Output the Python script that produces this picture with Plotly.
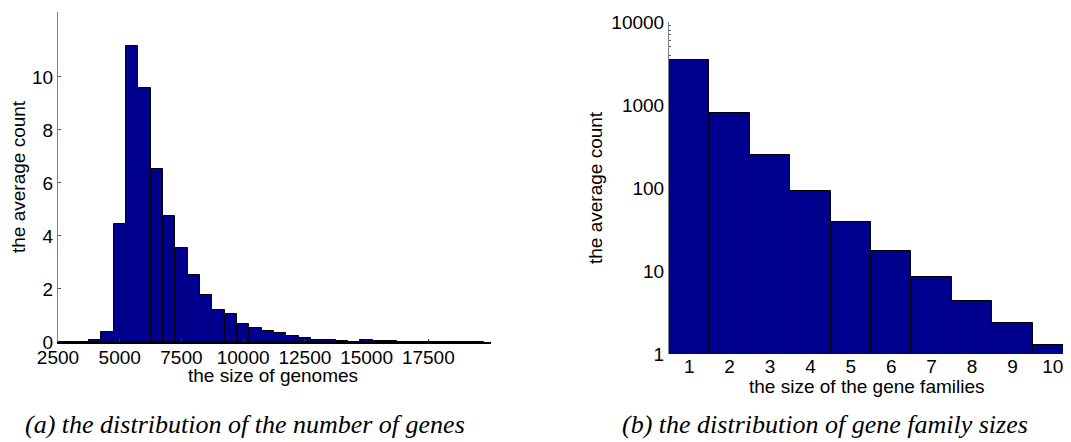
import plotly.graph_objects as go

# The page body has an 8px margin, so the figure is drawn 8px smaller and
# reference pixel positions are shifted by that offset.
OFF = 8
W, H = 1071 - OFF, 442 - OFF

# ---- data: (a) distribution of the number of genes ----
genome_bin_centers = [2500, 3000, 3500, 4000, 4500, 5000, 5500, 6000, 6500, 7000,
                      7500, 8000, 8500, 9000, 9500, 10000, 10500, 11000, 11500, 12000,
                      12500, 13000, 13500, 14000, 14500, 15000, 15500, 16000, 16500, 17000,
                      17500, 18000, 18500, 19000, 19500]
genome_avg_counts = [0, 0, 0, 0.06, 0.38, 4.45, 11.17, 9.57, 6.52, 4.74,
                     3.55, 2.52, 1.79, 1.22, 1.07, 0.67, 0.53, 0.42, 0.34, 0.24,
                     0.14, 0.07, 0.08, 0.04, 0.01, 0.06, 0.05, 0.05, 0.01, 0.01,
                     0.005, 0.005, 0.005, 0.005, 0.005]
genome_xticks = [2500, 5000, 7500, 10000, 12500, 15000, 17500]
genome_xticktext = ["2500", "5000", "7500", "10000", "12500", "15000", "17500"]
genome_yticks = [0, 2, 4, 6, 8, 10]

# ---- data: (b) distribution of gene family sizes ----
family_sizes = [1, 2, 3, 4, 5, 6, 7, 8, 9, 10]
family_avg_counts = [3500, 807, 252, 93, 38.6, 17.6, 8.5, 4.4, 2.34, 1.28]
family_yticks = [1, 10, 100, 1000, 10000]
family_yticktext = ["1", "10", "100", "1000", "10000"]

BAR = "#00008F"
SANS = "Liberation Sans, Arial, sans-serif"
SERIF = "Liberation Serif, Times New Roman, serif"
FS = 19

def px(x):
    return (x - OFF) / W

def py(y):
    return (H - (y - OFF)) / H

fig = go.Figure()
fig.add_trace(go.Bar(
    x=genome_bin_centers, y=genome_avg_counts, width=500,
    marker=dict(color=BAR, line=dict(color="black", width=1)),
    xaxis="x", yaxis="y", hoverinfo="x+y"))
fig.add_trace(go.Bar(
    x=family_sizes, y=family_avg_counts, width=1,
    marker=dict(color=BAR, line=dict(color="black", width=1)),
    xaxis="x2", yaxis="y2", hoverinfo="x+y"))

fig.update_layout(
    width=W, height=H,
    margin=dict(l=0, r=0, t=0, b=0, autoexpand=False),
    paper_bgcolor="white", plot_bgcolor="white",
    showlegend=False, bargap=0,
    font=dict(family=SANS, size=FS, color="black"),
    xaxis=dict(domain=[px(58), px(491)], range=[2500, 20040], anchor="y",
               automargin=False,
               tickmode="array", tickvals=genome_xticks, ticktext=genome_xticktext,
               ticks="inside", ticklen=3, tickcolor="#333",
               ticklabelstandoff=-3,
               showline=True, linecolor="black", linewidth=2,
               showgrid=False, zeroline=False, tickfont=dict(size=FS)),
    yaxis=dict(domain=[py(342), py(12)], range=[0, 12.45], anchor="x",
               automargin=False,
               tickmode="array", tickvals=genome_yticks,
               ticks="inside", ticklen=3, tickcolor="#555",
               showline=True, linecolor="#808080", linewidth=1,
               showgrid=False, zeroline=False, tickfont=dict(size=FS),
               layer="below traces"),
    xaxis2=dict(domain=[px(669), 1.0], range=[0.5, 10.45], anchor="y2",
                automargin=False,
                tickmode="array", tickvals=family_sizes,
                ticks="", showline=False, showgrid=False, zeroline=False,
                ticklabelstandoff=-1,
                tickfont=dict(size=FS)),
    yaxis2=dict(domain=[py(354), py(22)], type="log", range=[0, 4], anchor="x2",
                automargin=False,
                tickmode="array", tickvals=family_yticks, ticktext=family_yticktext,
                ticks="inside", ticklen=3, tickcolor="#555",
                minor=dict(ticks="inside", ticklen=2, tickcolor="#555", dtick="D1"),
                showline=True, linecolor="#808080", linewidth=1,
                showgrid=False, zeroline=False, tickfont=dict(size=FS),
                layer="below traces"),
)

ann = [
    dict(text="the average count", x=px(18), y=py(177), textangle=-90,
         font=dict(family=SANS, size=FS)),
    dict(text="the size of genomes", x=px(273), y=py(375),
         font=dict(family=SANS, size=FS)),
    dict(text="the average count", x=px(595), y=py(188), textangle=-90,
         font=dict(family=SANS, size=FS)),
    dict(text="the size of the gene families", x=px(867), y=py(386),
         font=dict(family=SANS, size=FS)),
    dict(text="<i>(a) the distribution of the number of genes</i>", x=px(245), y=py(424),
         font=dict(family=SERIF, size=26)),
    dict(text="<i>(b) the distribution of gene family sizes</i>", x=px(825), y=py(424),
         font=dict(family=SERIF, size=26)),
]
for a in ann:
    a.update(xref="paper", yref="paper", xanchor="center", yanchor="middle",
             showarrow=False)
fig.update_layout(annotations=ann)

fig.write_html("out.html")
